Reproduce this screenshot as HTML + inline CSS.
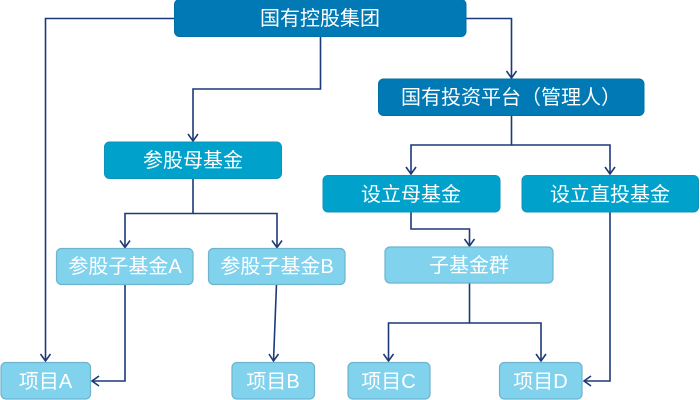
<!DOCTYPE html>
<html lang="zh"><head><meta charset="utf-8"><style>
html,body{margin:0;padding:0;background:#fff;width:700px;height:400px;overflow:hidden}
svg{display:block}
text{font-family:"Liberation Sans","Noto Sans CJK SC",sans-serif;font-size:20px;fill:#fff;text-anchor:middle}
.l{fill:none;stroke:#1c3a78;stroke-width:1.6}
.d{stroke:#006fa6;stroke-width:1;fill:#0079b4}
.m{stroke:#0e93b8;stroke-width:1;fill:#00a2cb}
.s{stroke:#6fb3ce;stroke-width:1.2;fill:#81d2ec}
</style></head><body>
<svg width="700" height="400" viewBox="0 0 700 400" xmlns="http://www.w3.org/2000/svg">
<g class="l">
<path d="M175 18.500H45.500V361"/><path d="M40.500 354L45.500 361L50.500 354"/>
<path d="M320.500 36V89H193V141"/><path d="M188 134L193 141L198 134"/>
<path d="M466 18.500H511.500V78"/><path d="M506.500 71L511.500 78L516.500 71"/>
<path d="M511.500 115V145H411V174"/><path d="M406 167L411 174L416 167"/>
<path d="M511.500 145H610V174"/><path d="M605 167L610 174L615 167"/>
<path d="M193 178V213.500H125V247.500"/><path d="M120 240.500L125 247.500L130 240.500"/>
<path d="M193 213.500H277V247.500"/><path d="M272 240.500L277 247.500L282 240.500"/>
<path d="M125 284V381H92"/><path d="M99 376L92 381L99 386"/>
<path d="M276.500 284L273.500 361"/><path d="M269 354L273.500 361L278.500 354"/>
<path d="M411 212V229H469.500V246"/><path d="M464.500 239L469.500 246L474.500 239"/>
<path d="M469.500 283V323H388.500V361"/><path d="M383.500 354L388.500 361L393.500 354"/>
<path d="M469.500 323H541V361"/><path d="M536 354L541 361L546 354"/>
<path d="M610 212V381H584"/><path d="M591 376L584 381L591 386"/>
</g>
<rect class="d" x="174.500" y="-0.500" width="291.500" height="37" rx="5"/>
<rect class="d" x="378.500" y="79" width="265.500" height="36.500" rx="5"/>
<rect class="m" x="104.500" y="142" width="177" height="36.500" rx="5"/>
<rect class="m" x="323" y="175.500" width="177" height="36.500" rx="5"/>
<rect class="m" x="522" y="175.500" width="176.500" height="36.500" rx="5"/>
<rect class="s" x="56.500" y="248.500" width="136.500" height="36" rx="5"/>
<rect class="s" x="208.500" y="248.500" width="136.500" height="36" rx="5"/>
<rect class="s" x="385" y="247" width="168" height="36" rx="5"/>
<rect class="s" x="1" y="362.500" width="89.500" height="36.500" rx="5"/>
<rect class="s" x="232" y="362.500" width="82.500" height="36.500" rx="5"/>
<rect class="s" x="348" y="362.500" width="82" height="36.500" rx="5"/>
<rect class="s" x="499.500" y="362.500" width="82.500" height="36.500" rx="5"/>
<text x="320" y="25">国有控股集团</text>
<text x="511" y="104">国有投资平台（管理人）</text>
<text x="193" y="167">参股母基金</text>
<text x="411" y="201">设立母基金</text>
<text x="610" y="201">设立直投基金</text>
<text x="125" y="273">参股子基金A</text>
<text x="277" y="273">参股子基金B</text>
<text x="469" y="272">子基金群</text>
<text x="45.500" y="388">项目A</text>
<text x="273" y="388">项目B</text>
<text x="388.500" y="388">项目C</text>
<text x="540.500" y="388">项目D</text>
</svg>
</body></html>
